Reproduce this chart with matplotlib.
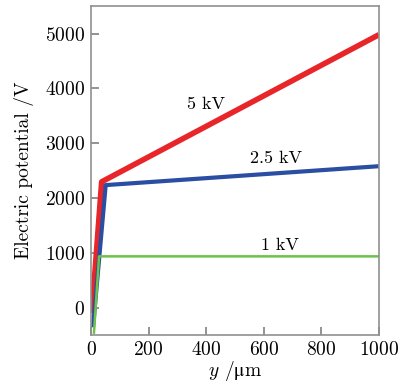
import matplotlib
matplotlib.use("Agg")
import matplotlib.pyplot as plt

plt.rcParams['font.family'] = ['cmr10', 'DejaVu Serif']
plt.rcParams['mathtext.fontset'] = 'cm'
plt.rcParams['mathtext.fallback'] = 'stix'
plt.rcParams['axes.formatter.use_mathtext'] = True

x_5kv = [3, 37, 1000]
v_5kv = [-100, 2295, 4980]
x_25kv = [7, 51, 1000]
v_25kv = [-360, 2235, 2580]
x_1kv = [10, 28, 1000]
v_1kv = [-480, 935, 935]

labels = ["5 kV", "2.5 kV", "1 kV"]
label_pos = [(398, 3700), (642, 2730), (656, 1135)]

xticks = [0, 200, 400, 600, 800, 1000]
yticks = [0, 1000, 2000, 3000, 4000, 5000]

fig = plt.figure(figsize=(4.09, 3.84), dpi=100)
ax = fig.add_axes([0.2225, 0.1276, 0.7042, 0.8564])

ax.plot(x_5kv, v_5kv, color="#e8262a", lw=4.0, solid_capstyle="butt")
ax.plot(x_25kv, v_25kv, color="#2a4ea2", lw=3.0, solid_capstyle="butt")
ax.plot(x_1kv, v_1kv, color="#6cc24a", lw=1.8, solid_capstyle="butt")

for t, (tx, ty) in zip(labels, label_pos):
    ax.text(tx, ty, t, fontsize=13, ha="center", va="center")

ax.set_xlim(0, 1000)
ax.set_ylim(-500, 5500)
ax.set_xticks(xticks)
ax.set_yticks(yticks)
ax.tick_params(direction="in", length=6, width=1.2, color="#808080",
               labelsize=14, pad=4)
for s in ax.spines.values():
    s.set_color("#909090")
    s.set_linewidth(1.2)

ax.set_xlabel(r"$y$ /$\mathrm{μ}$m", fontsize=14, labelpad=0)
ax.set_ylabel("Electric potential /V", fontsize=14, labelpad=8)

fig.savefig("out.png", dpi=100)
